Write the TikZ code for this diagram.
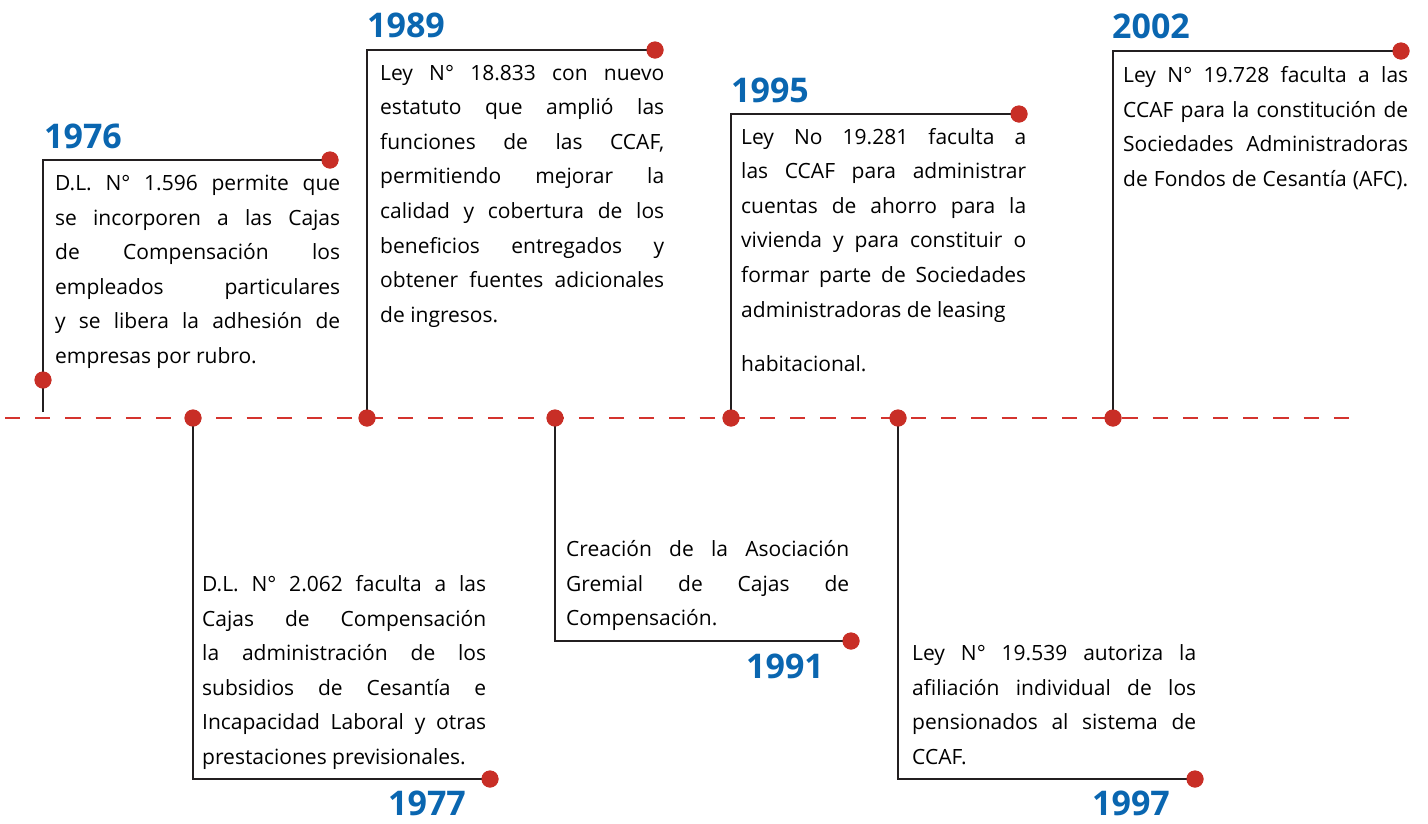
\documentclass[tikz,border=0pt]{standalone}
\usepackage{fontspec}
\setmainfont{Open Sans}
\definecolor{dotred}{RGB}{200,46,38}
\definecolor{dashred}{RGB}{212,52,46}
\definecolor{yearblue}{RGB}{10,102,176}
\definecolor{linegray}{RGB}{35,31,32}
\newcommand\jline[1]{\makebox[\linewidth][s]{#1}}
\begin{document}
\begin{tikzpicture}[x=1pt,y=-1pt,
  dot/.style={circle, fill=dotred, minimum size=17pt, inner sep=0},
  conn/.style={draw=linegray, line width=1.5pt},
  timeline/.style={draw=dashred, line width=1.8pt, dash pattern=on 15.1pt off 15.1pt},
  desc/.style={anchor=base west, inner sep=0, font=\fontsize{21}{34.6}\selectfont, text=black},
  yearw/.style={anchor=base west, inner sep=0, font=\fontsize{34}{38}\selectfont\bfseries, text=yearblue},
  yeare/.style={anchor=base east, inner sep=0, font=\fontsize{34}{38}\selectfont\bfseries, text=yearblue}]
\useasboundingbox (0,0) rectangle (1428,823);

% timeline
\coordinate (tlL) at (5,418);
\coordinate (tlR) at (1350,418);
\draw[timeline] (tlL) -- (tlR);

% corners and free ends
\coordinate (c76) at (43,160);
\coordinate (e76) at (43,412);
\coordinate (c89) at (367,50);
\coordinate (c95) at (731,114);
\coordinate (c02) at (1113,51);
\coordinate (c77) at (193,779);
\coordinate (c91) at (555,641);
\coordinate (c97) at (898,779);

% dots
\node[dot] (d76t) at (330,160) {};
\node[dot] (d76b) at (43,380) {};
\node[dot] (d89t) at (655,50) {};
\node[dot] (d89l) at (367,418) {};
\node[dot] (d95t) at (1019,114) {};
\node[dot] (d95l) at (731,418) {};
\node[dot] (d02t) at (1401,51) {};
\node[dot] (d02l) at (1113,418) {};
\node[dot] (d77l) at (193,418) {};
\node[dot] (d77b) at (490,779) {};
\node[dot] (d91l) at (555,418) {};
\node[dot] (d91b) at (851,641) {};
\node[dot] (d97l) at (898,418) {};
\node[dot] (d97b) at (1195,779) {};

% connectors
\draw[conn] (e76) -- (c76) -- (d76t.center);
\draw[conn] (d89l.center) -- (c89) -- (d89t.center);
\draw[conn] (d95l.center) -- (c95) -- (d95t.center);
\draw[conn] (d02l.center) -- (c02) -- (d02t.center);
\draw[conn] (d77l.center) -- (c77) -- (d77b.center);
\draw[conn] (d91l.center) -- (c91) -- (d91b.center);
\draw[conn] (d97l.center) -- (c97) -- (d97b.center);

% dots on top of connectors
\foreach \d in {d76t,d76b,d89t,d89l,d95t,d95l,d02t,d02l,d77l,d77b,d91l,d91b,d97l,d97b}
  \fill[dotred] (\d) circle (8.5pt);

% years
\node[yearw] (y76) at (44,148) {1976};
\node[yearw] (y89) at (367,37) {1989};
\node[yearw] (y95) at (731,102) {1995};
\node[yearw] (y02) at (1112,38) {2002};
\node[yeare] (y77) at (466,815) {1977};
\node[yeare] (y91) at (824,678) {1991};
\node[yeare] (y97) at (1170,815) {1997};

% descriptions
\node[desc] (t76) at (55,190.5) {\parbox[t]{285pt}{%
\jline{D.L. N° 1.596 permite que}\\
\jline{se incorporen a las Cajas}\\
\jline{de Compensación los}\\
\jline{empleados particulares}\\
\jline{y se libera la adhesión de}\\
empresas por rubro.}};

\node[desc] (t89) at (380,80) {\parbox[t]{284pt}{%
\jline{Ley N° 18.833 con nuevo}\\
\jline{estatuto que amplió las}\\
\jline{funciones de las CCAF,}\\
\jline{permitiendo mejorar la}\\
\jline{calidad y cobertura de los}\\
\jline{beneficios entregados y}\\
\jline{obtener fuentes adicionales}\\
de ingresos.}};

\node[desc] (t95) at (741,144) {\parbox[t]{285pt}{%
\jline{Ley No 19.281 faculta a}\\
\jline{las CCAF para administrar}\\
\jline{cuentas de ahorro para la}\\
\jline{vivienda y para constituir o}\\
\jline{formar parte de Sociedades}\\
administradoras de leasing\\[19.4pt]
habitacional.}};

\node[desc] (t02) at (1123,82.5) {\parbox[t]{285pt}{%
\jline{Ley N° 19.728 faculta a las}\\
\jline{CCAF para la constitución de}\\
\jline{Sociedades Administradoras}\\
\jline{de Fondos de Cesantía (AFC).}}};

\node[desc] (t77) at (202,591.5) {\parbox[t]{284pt}{%
\jline{D.L. N° 2.062 faculta a las}\\
\jline{Cajas de Compensación}\\
\jline{la administración de los}\\
\jline{subsidios de Cesantía e}\\
\jline{Incapacidad Laboral y otras}\\
prestaciones previsionales.}};

\node[desc] (t91) at (566,556.5) {\parbox[t]{283pt}{%
\jline{Creación de la Asociación}\\
\jline{Gremial de Cajas de}\\
Compensación.}};

\node[desc] (t97) at (912,660.5) {\parbox[t]{284pt}{%
\jline{Ley N° 19.539 autoriza la}\\
\jline{afiliación individual de los}\\
\jline{pensionados al sistema de}\\
CCAF.}};
\end{tikzpicture}
\end{document}
